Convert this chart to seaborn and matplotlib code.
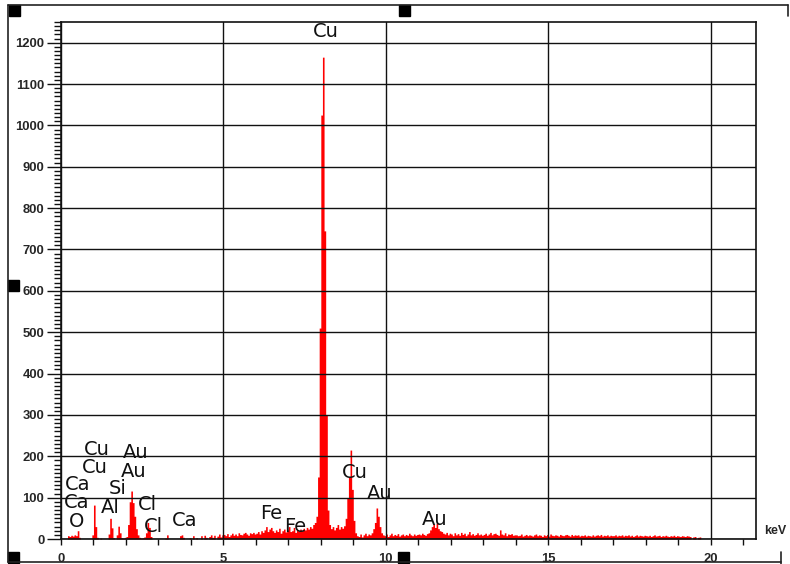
import numpy as np
import pandas as pd
import matplotlib
matplotlib.use('Agg')
import matplotlib.pyplot as plt
import seaborn as sns
from matplotlib.patches import Rectangle
from matplotlib.lines import Line2D

# EDS spectrum, counts per 0.05 keV channel (one row = 1 keV)
counts = [
    0, 0, 0, 0, 8, 6, 9, 7, 10, 8, 20, 4, 0, 0, 0, 0, 0, 0, 0, 10,                 # 0
    82, 30, 4, 0, 2, 0, 0, 0, 0, 12, 50, 27, 3, 0, 10, 31, 15, 3, 2, 4,             # 1
    6, 35, 90, 116, 88, 55, 25, 10, 4, 2, 3, 5, 15, 40, 28, 6, 0, 0, 0, 0,          # 2
    0, 0, 0, 0, 2, 10, 0, 0, 0, 0, 0, 0, 0, 8, 10, 4, 0, 0, 0, 3,                   # 3
    0, 8, 0, 3, 0, 0, 8, 0, 9, 4, 0, 6, 10, 4, 9, 0, 7, 12, 5, 10,                  # 4
    11, 8, 13, 6, 10, 14, 9, 12, 8, 15, 11, 10, 14, 16, 12, 9, 15, 13, 16, 12,      # 5
    14, 18, 12, 20, 16, 22, 30, 18, 24, 28, 20, 16, 22, 18, 26, 14, 20, 24, 17, 22, # 6
    30, 18, 20, 28, 16, 22, 19, 24, 20, 26, 22, 28, 24, 30, 26, 35, 40, 55, 150, 510,  # 7
    1025, 1165, 745, 300, 70, 35, 25, 30, 22, 28, 35, 24, 30, 26, 32, 50, 100, 150, 215, 120,  # 8
    45, 15, 8, 6, 12, 5, 10, 14, 8, 12, 10, 15, 25, 40, 75, 55, 30, 15, 10, 8,      # 9
    12, 6, 10, 14, 8, 11, 9, 13, 7, 10, 12, 8, 11, 9, 14, 10, 8, 12, 9, 11,         # 10
    12, 10, 14, 11, 9, 13, 15, 22, 30, 35, 28, 38, 25, 20, 18, 14, 12, 16, 10, 14,  # 11
    12, 8, 15, 10, 13, 9, 16, 11, 14, 8, 12, 18, 10, 13, 9, 11, 15, 10, 12, 9,      # 12
    11, 14, 9, 12, 16, 10, 13, 14, 11, 9, 22, 12, 10, 15, 8, 12, 11, 13, 9, 10,     # 13
    10, 8, 9, 12, 7, 9, 11, 8, 10, 9, 7, 10, 12, 8, 10, 9, 6, 10, 8, 11,            # 14
    7, 12, 9, 8, 10, 9, 7, 11, 9, 8, 10, 11, 9, 7, 11, 8, 10, 9, 10, 7,             # 15
    9, 8, 10, 7, 9, 8, 7, 10, 7, 9, 10, 8, 11, 7, 9, 8, 10, 7, 9, 8,                # 16
    8, 10, 7, 9, 8, 10, 7, 9, 8, 10, 7, 9, 6, 8, 10, 7, 9, 8, 7, 9,                 # 17
    8, 7, 9, 6, 8, 10, 7, 8, 9, 6, 8, 7, 9, 7, 6, 8, 7, 9, 6, 8,                    # 18
    7, 6, 8, 7, 6, 8, 7, 6, 0, 5, 6, 0, 4, 5,                                       # 19
]
channel_width = 0.05
energy = np.arange(len(counts)) * channel_width + channel_width / 2
spec = pd.DataFrame({'keV': energy, 'counts': counts})

# peak labels: (text, keV, counts)
peak_labels = [
    ('Cu', 8.15, 1228), ('Cu', 1.10, 216), ('Au', 2.31, 209), ('Cu', 1.05, 173),
    ('Au', 2.25, 164), ('Ca', 0.51, 131), ('Si', 1.75, 123), ('Ca', 0.48, 88),
    ('Al', 1.51, 77), ('Cl', 2.66, 83), ('O', 0.48, 42), ('Cl', 2.86, 31),
    ('Ca', 3.82, 45), ('Fe', 6.48, 62), ('Fe', 7.20, 31), ('Cu', 9.05, 160),
    ('Au', 9.82, 109), ('Au', 11.52, 46),
]

sns.set_style('white')
W, H = 790, 564
fig = plt.figure(figsize=(W / 100, H / 100), dpi=100)
ax = fig.add_axes([61 / W, 1 - 539 / H, (756 - 61) / W, (539 - 22) / H])

sns.histplot(data=spec, x='keV', weights='counts', binwidth=channel_width,
             binrange=(0, len(counts) * channel_width), element='step', fill=True,
             color='#ff0000', alpha=1, linewidth=0, ax=ax)

ax.set_xlim(0, 21.4)
ax.set_ylim(0, 1250)
ax.set_xlabel('')
ax.set_ylabel('')
ax.set_axisbelow(False)

ax.set_xticks([0, 5, 10, 15, 20])
ax.set_xticks(range(0, 22), minor=True)
ax.set_yticks(range(0, 1201, 100))
ax.set_yticks(range(0, 1251, 10), minor=True)
ax.grid(True, which='major', color='#111111', linewidth=1.0)
ax.tick_params(axis='x', which='both', direction='out', length=4, width=1,
               color='#111111', pad=6, bottom=True)
ax.tick_params(axis='y', which='major', direction='out', length=10, width=1,
               color='#111111', pad=2, left=True)
ax.tick_params(axis='y', which='minor', direction='out', length=5, width=1,
               color='#111111', left=True)
for lab in ax.get_xticklabels() + ax.get_yticklabels():
    lab.set_fontfamily('Liberation Sans')
    lab.set_fontweight('bold')
    lab.set_fontsize(9.4)
for sp in ax.spines.values():
    sp.set_color('#111111')
    sp.set_linewidth(1.2)

for txt, x, y in peak_labels:
    ax.text(x, y, txt, ha='center', va='center', fontsize=14,
            family='DejaVu Sans', color='#111111')

fig.text(775 / W, 1 - 531 / H, 'keV', ha='center', va='center',
         fontsize=9, fontweight='bold', family='Liberation Sans')

# outer frame with selection handles
def px(x, y):
    return x / W, 1 - y / H

frame = [((8, 5), (788, 5)), ((8, 5), (8, 562)), ((8, 562), (781, 562)),
         ((788, 5), (788, 16)), ((781, 552), (781, 564))]
for (x0, y0), (x1, y1) in frame:
    a, b = px(x0, y0), px(x1, y1)
    fig.add_artist(Line2D([a[0], b[0]], [a[1], b[1]], color='#222222', lw=1.2))
for hx, hy in [(9, 5), (399, 5), (8, 280), (8, 552), (398, 552)]:
    x0, y1 = px(hx, hy + 11)
    fig.add_artist(Rectangle((x0, y1), 11 / W, 11 / H, color='black'))

fig.savefig('out.png', dpi=100)
